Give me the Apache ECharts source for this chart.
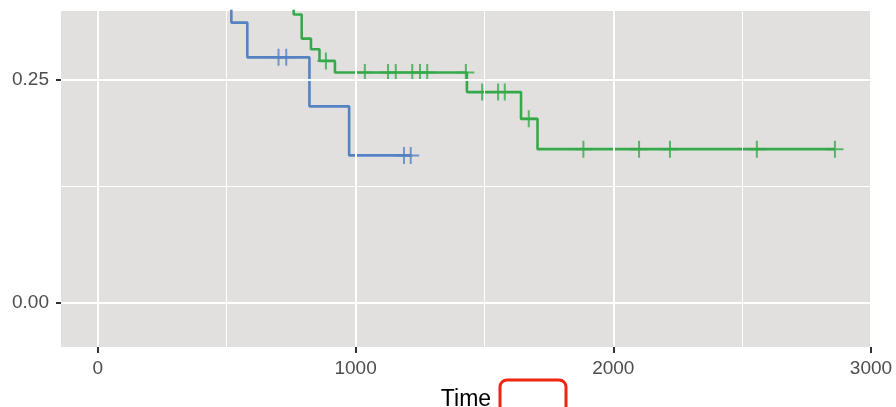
<!DOCTYPE html>
<html><head><meta charset="utf-8">
<script src="https://cdn.jsdelivr.net/npm/echarts@6/dist/echarts.min.js"></script>
<style>html,body{margin:0;padding:0;background:#fff}#c{width:896px;height:407px}</style>
</head><body><div id="c"></div>
<script>
// Kaplan-Meier step curves (time, survival after event)
const blueCurve = [[470,0.353],[518,0.314],[580,0.275],[821,0.220],[975,0.165],[1214,0.165]];
const blueCensor = [[701,0.275],[731,0.275],[1188,0.165],[1214,0.165]];
const greenCurve = [[700,0.345],[760,0.323],[791,0.296],[827,0.284],[860,0.271],[920,0.258],[1432,0.236],[1642,0.206],[1706,0.172],[2860,0.172]];
const greenCensor = [[885,0.271],[1036,0.258],[1126,0.258],[1156,0.258],[1220,0.258],[1250,0.258],[1278,0.258],[1428,0.258],
  [1491,0.236],[1553,0.236],[1579,0.236],[1672,0.206],[1884,0.172],[2100,0.172],[2220,0.172],[2557,0.172],[2860,0.172]];
const xTicks = [0,1000,2000,3000];
const xMinor = [500,1500,2500];
const yTicks = [0,0.25];
const yMinor = [0.125];

const BLUE = '#5482C2', GREEN = '#36A94A';
const plus = 'path://M5,0L5,10M0,5L10,5';
const font = 'Liberation Sans, Arial, Helvetica, sans-serif';

const chart = echarts.init(document.getElementById('c'), null, {renderer:'canvas'});
const gridLines = [
  ...xTicks.map(v=>({xAxis:v, lineStyle:{width:2}})),
  ...xMinor.map(v=>({xAxis:v, lineStyle:{width:1}})),
  ...yTicks.map(v=>({yAxis:v, lineStyle:{width:2}})),
  ...yMinor.map(v=>({yAxis:v, lineStyle:{width:1}}))
];
const hiddenLine = {show:true, onZero:false, lineStyle:{color:'rgba(0,0,0,0)', width:0}};
chart.setOption({
  animation:false,
  backgroundColor:'#ffffff',
  grid:{left:61, right:25, top:11, bottom:60, show:true, backgroundColor:'#E1E0DE', borderWidth:0,
    containLabel:false, outerBoundsMode:'none'},
  xAxis:{type:'value', min:-143, max:3000,
    name:'Time', nameLocation:'middle', nameGap:41,
    nameTextStyle:{color:'#000', fontSize:23, fontFamily:font},
    axisLine:hiddenLine, splitLine:{show:false},
    axisTick:{show:true, customValues:xTicks, length:6, lineStyle:{color:'#333', width:2}},
    axisLabel:{customValues:xTicks, color:'#4D4D4D', fontSize:19, fontFamily:font, margin:12,
      formatter:v=>String(v)}
  },
  yAxis:{type:'value', min:-0.05, max:0.327,
    axisLine:hiddenLine, splitLine:{show:false},
    axisTick:{show:true, customValues:yTicks, length:5, lineStyle:{color:'#333', width:2}},
    axisLabel:{customValues:yTicks, color:'#4D4D4D', fontSize:19, fontFamily:font, margin:12,
      formatter:v=>v.toFixed(2)}
  },
  series:[
    {type:'line', data:[], z:1, silent:true,
      markLine:{silent:true, symbol:['none','none'], label:{show:false}, animation:false,
        lineStyle:{color:'#ffffff', type:'solid'}, emphasis:{disabled:true}, data:gridLines}},
    {type:'line', step:'end', data:blueCurve, showSymbol:false, z:3,
      lineStyle:{color:BLUE, width:2.6}, clip:true},
    {type:'line', step:'end', data:greenCurve, showSymbol:false, z:3,
      lineStyle:{color:GREEN, width:2.6}, clip:true},
    {type:'scatter', data:blueCensor, symbol:plus, symbolSize:17, z:4,
      itemStyle:{color:'none', borderColor:BLUE, borderWidth:2}},
    {type:'scatter', data:greenCensor, symbol:plus, symbolSize:17, z:4,
      itemStyle:{color:'none', borderColor:GREEN, borderWidth:2}}
  ],
  graphic:[{type:'rect', shape:{x:500, y:380, width:66, height:40, r:7},
    style:{fill:'none', stroke:'#F02511', lineWidth:3}, z:10}]
});
</script></body></html>
